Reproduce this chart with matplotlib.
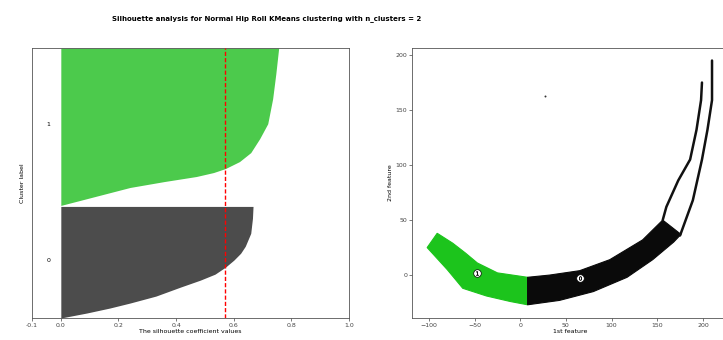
import matplotlib
matplotlib.use('Agg')
import matplotlib.pyplot as plt

# silhouette profile: (sample position, silhouette value)
c0_pos = [0, 5, 10, 15, 22, 31, 38, 44, 51, 58, 65, 72, 85, 100, 112]
c0_val = [0.0, 0.09, 0.17, 0.24, 0.33, 0.415, 0.484, 0.535, 0.571, 0.60, 0.624, 0.64, 0.659, 0.665, 0.667]
c1_pos = [113, 122, 131, 137, 142, 146, 150, 157, 166, 180, 195, 220, 245, 271]
c1_val = [0.0, 0.12, 0.24, 0.36, 0.47, 0.53, 0.571, 0.62, 0.659, 0.69, 0.718, 0.735, 0.746, 0.756]
cluster_labels = ['0', '1']
silhouette_avg = 0.57

# clustered feature space, outline of each point cloud (1st feature, 2nd feature)
g_up_x = [-91, -74, -60, -47, -25, 8]
g_up_y = [38, 29, 20, 11, 2, -2]
g_lo_x = [-102, -80, -63, -37, -11, 8]
g_lo_y = [25, 5, -12, -19, -24, -27]

b_up_x = [8, 32, 65, 98, 134, 156]
b_up_y = [-2, 0, 4, 14, 32, 50]
b_lo_x = [8, 43, 80, 117, 145, 168, 176]
b_lo_y = [-27, -23, -15, -2, 14, 30, 37]
strand1_x = [156, 160, 173, 186, 193, 198, 199]
strand1_y = [50, 62, 86, 105, 132, 159, 175]
strand2_x = [175, 189, 199, 205, 210, 210]
strand2_y = [36, 68, 105, 132, 159, 195]
outlier = (27, 163)

centers_x = [65, -47]
centers_y = [-3, 2]

green = '#1cc41c'
fig = plt.figure(figsize=(7.23, 3.4), dpi=100)
ax1 = fig.add_axes([32 / 723, 22 / 340, 317 / 723, 270 / 340])
ax2 = fig.add_axes([412 / 723, 22 / 340, 317 / 723, 270 / 340])

# left: silhouette plot
ax1.fill_betweenx(c0_pos, 0, c0_val, facecolor='black', edgecolor='black', alpha=0.7, lw=0)
ax1.fill_betweenx(c1_pos, 0, c1_val, facecolor='#00b400', edgecolor='#00b400', alpha=0.7, lw=0)
ax1.text(-0.05, 56, cluster_labels[0], fontsize=4.5)
ax1.text(-0.05, 193, cluster_labels[1], fontsize=4.5)
ax1.axvline(x=silhouette_avg, color='red', linestyle=(0, (3, 1.5)), lw=1.0, zorder=5)
ax1.set_xlim(-0.1, 1.0)
ax1.set_ylim(0, 271)
ax1.set_yticks([])
ax1.set_xticks([-0.1, 0, 0.2, 0.4, 0.6, 0.8, 1])
ax1.set_xticklabels(['-0.1', '0.0', '0.2', '0.4', '0.6', '0.8', '1.0'])
ax1.set_xlabel('The silhouette coefficient values', fontsize=4.5, labelpad=1)
ax1.set_ylabel('Cluster label', fontsize=4.5, labelpad=5)

# right: the clusters
ax2.fill(g_up_x + g_lo_x[::-1], g_up_y + g_lo_y[::-1], color=green, lw=0.8)
ax2.fill(b_up_x + b_lo_x[::-1], b_up_y + b_lo_y[::-1], color='#0a0a0a', lw=0.8)
ax2.plot(strand1_x, strand1_y, color='#111111', lw=1.8, solid_capstyle='round')
ax2.plot(strand2_x, strand2_y, color='#111111', lw=1.8, solid_capstyle='round')
ax2.scatter([outlier[0]], [outlier[1]], s=2, color='#333333', lw=0)
ax2.scatter(centers_x, centers_y, marker='o', c='white', s=30, edgecolor='k', lw=0.5, zorder=3)
for i in range(2):
    ax2.scatter(centers_x[i], centers_y[i], marker='$%d$' % i, s=8, c='k', lw=0.3, zorder=4)
ax2.set_xlim(-118.6, 228.6)
ax2.set_ylim(-39, 206.4)
ax2.set_xticks([-100, -50, 0, 50, 100, 150, 200])
ax2.set_yticks([0, 50, 100, 150, 200])
ax2.set_xlabel('1st feature', fontsize=4.5, labelpad=1)
ax2.set_ylabel('2nd feature', fontsize=4.5, labelpad=2)

for ax in (ax1, ax2):
    ax.tick_params(labelsize=4.5, length=2, width=0.5, pad=1.5, colors='#444444')
    for s in ax.spines.values():
        s.set_linewidth(0.6)
        s.set_color('#555555')

fig.suptitle('Silhouette analysis for Normal Hip Roll KMeans clustering with n_clusters = 2',
             fontsize=5.0, fontweight='bold', x=267 / 723, y=0.955)
fig.savefig('out.png', dpi=100)
